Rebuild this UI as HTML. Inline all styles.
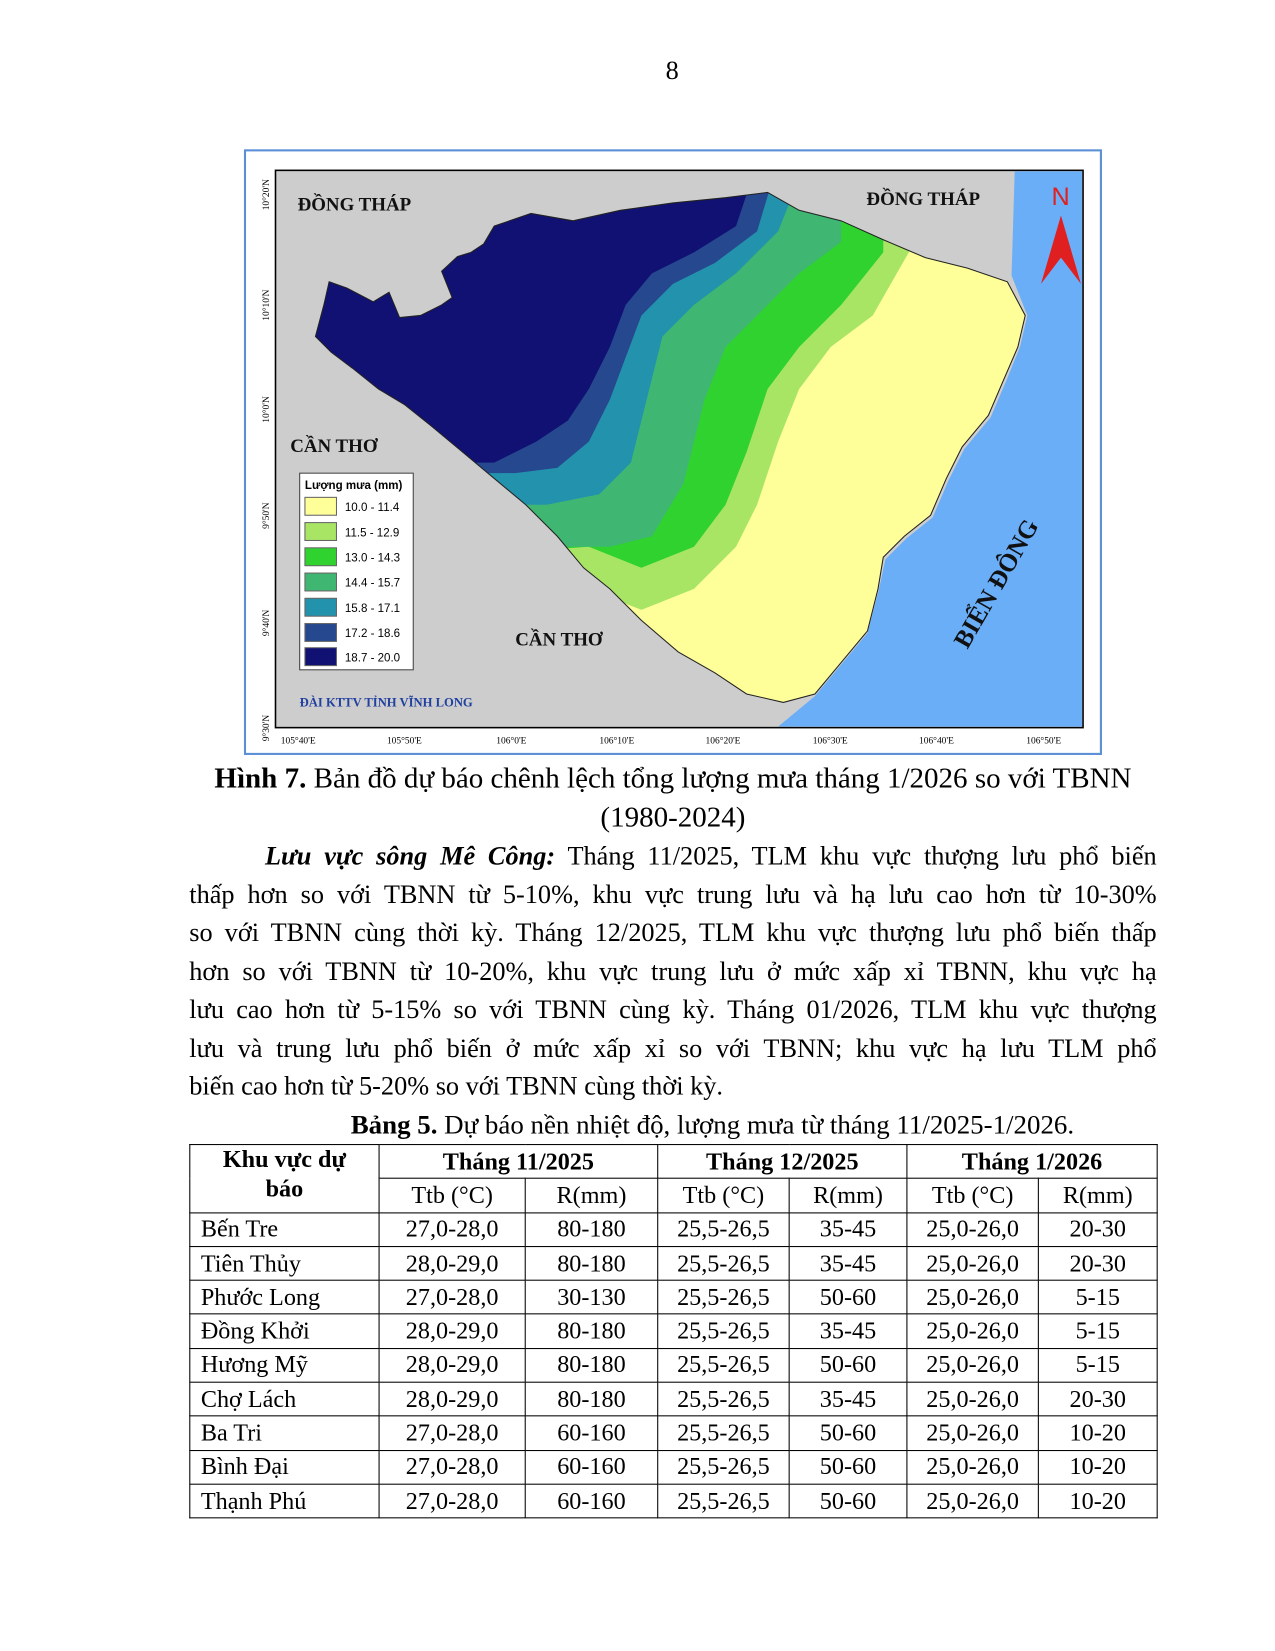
<!DOCTYPE html>
<html><head><meta charset="utf-8"><style>
body{margin:0;width:1275px;height:1650px;background:#fff;position:relative;font-family:"Liberation Serif",serif;color:#000;overflow:hidden}
#w{position:absolute;left:0;top:0;width:1280px;height:1570px;transform:scale(1.0515);transform-origin:0 0}
.a{position:absolute;white-space:nowrap}
.ln{position:absolute;left:180px;width:920px;font-size:25px;text-align:justify;text-align-last:justify;white-space:nowrap;line-height:30px}
table{position:absolute;left:180px;top:1088px;border-collapse:collapse;font-size:23px}
td{border:1px solid #000;height:31.3px;padding:0;text-align:center;line-height:28px}
td.l{text-align:left;padding-left:10px}
</style></head><body><div id="w">
<div class="a" style="left:633px;top:54px;font-size:25px">8</div>
<svg class="a" style="left:0;top:0" width="1275" height="760">
<defs><clipPath id="land"><path d="M313,268 L330,274 L355,287 L370,278 L380,302 L400,300 L420,290 L430,283 L420,258 L435,244 L448,240 L460,232 L470,215 L505,203 L545,210 L590,200 L640,193 L690,188 L730,183 L760,200 L800,210 L840,228 L880,245 L920,255 L958,268 L975,300 L968,330 L955,360 L940,395 L915,425 L900,455 L885,490 L860,510 L840,530 L835,560 L825,600 L800,630 L775,660 L745,668 L710,660 L680,640 L645,620 L610,590 L580,560 L555,540 L530,510 L500,480 L470,455 L440,430 L410,405 L385,385 L360,370 L335,350 L315,335 L300,320 L308,290 Z"/></clipPath></defs>
<rect x="233" y="143" width="814" height="574" fill="#fff" stroke="#5b8fd6" stroke-width="2"/>
<rect x="262" y="162" width="768" height="530" fill="#cdcdcd" stroke="#000" stroke-width="1.5"/>
<path d="M965,163 L1029,163 L1029,691 L740,691 L775,662 L800,632 L825,602 L836,560 L842,532 L862,512 L887,492 L902,457 L917,427 L942,397 L957,362 L970,330 L977,300 L962,262 Z" fill="#6aaef8"/>
<g clip-path="url(#land)">
<rect x="270" y="170" width="760" height="520" fill="#ffff99"/>
<path d="M270,170 L870,170 L870,230 L830,300 L790,330 L760,370 L740,420 L720,480 L700,520 L660,560 L610,580 L560,560 L270,560Z" fill="#a8e565"/>
<path d="M270,170 L840,170 L840,240 L800,290 L760,330 L730,370 L710,430 L690,480 L660,520 L610,540 L560,520 L270,540Z" fill="#2fd22f"/>
<path d="M270,170 L800,170 L800,230 L760,260 L720,300 L690,330 L670,380 L660,420 L650,460 L620,510 L580,520 L270,520Z" fill="#3fb772"/>
<path d="M270,170 L760,170 L740,220 L700,260 L660,290 L630,320 L620,360 L610,400 L600,440 L570,470 L520,480 L270,480Z" fill="#2393ad"/>
<path d="M270,170 L735,170 L720,220 L680,250 L640,270 L610,300 L595,340 L580,380 L560,420 L530,445 L490,450 L270,450Z" fill="#26488f"/>
<path d="M270,170 L715,170 L700,215 L660,240 L620,260 L595,290 L580,330 L560,370 L540,400 L510,420 L470,440 L270,440Z" fill="#111173"/>
</g>
<path d="M313,268 L330,274 L355,287 L370,278 L380,302 L400,300 L420,290 L430,283 L420,258 L435,244 L448,240 L460,232 L470,215 L505,203 L545,210 L590,200 L640,193 L690,188 L730,183 L760,200 L800,210 L840,228 L880,245 L920,255 L958,268 L975,300 L968,330 L955,360 L940,395 L915,425 L900,455 L885,490 L860,510 L840,530 L835,560 L825,600 L800,630 L775,660 L745,668 L710,660 L680,640 L645,620 L610,590 L580,560 L555,540 L530,510 L500,480 L470,455 L440,430 L410,405 L385,385 L360,370 L335,350 L315,335 L300,320 L308,290 Z" fill="none" stroke="#222" stroke-width="1"/>
<g font-family="Liberation Serif" font-weight="bold" font-size="18" fill="#111">
<text x="283" y="200">ĐỒNG THÁP</text><text x="824" y="195">ĐỒNG THÁP</text>
<text x="276" y="430">CẦN THƠ</text><text x="490" y="614">CẦN THƠ</text>
<text x="0" y="0" font-size="24" transform="translate(920,618) rotate(-60)">BIỂN ĐÔNG</text>
<text x="285" y="672" font-size="12" fill="#2040a0">ĐÀI KTTV TỈNH VĨNH LONG</text>
</g>
<text x="1000" y="195" font-family="Liberation Sans" font-size="24" fill="#e02020">N</text>
<path d="M1009,205 L990,270 L1009,245 L1028,270 Z" fill="#e02020"/>
<rect x="285" y="450" width="108" height="187" fill="#fff" stroke="#444"/>
<g font-family="Liberation Sans" font-size="11">
<text x="290" y="465" font-weight="bold">Lượng mưa (mm)</text>
<rect x="290" y="473" width="30" height="17" fill="#ffff99" stroke="#666"/><text x="328" y="486">10.0 - 11.4</text>
<rect x="290" y="497" width="30" height="17" fill="#a8e565" stroke="#666"/><text x="328" y="510">11.5 - 12.9</text>
<rect x="290" y="521" width="30" height="17" fill="#2fd22f" stroke="#666"/><text x="328" y="534">13.0 - 14.3</text>
<rect x="290" y="545" width="30" height="17" fill="#3fb772" stroke="#666"/><text x="328" y="558">14.4 - 15.7</text>
<rect x="290" y="569" width="30" height="17" fill="#2393ad" stroke="#666"/><text x="328" y="582">15.8 - 17.1</text>
<rect x="290" y="593" width="30" height="17" fill="#26488f" stroke="#666"/><text x="328" y="606">17.2 - 18.6</text>
<rect x="290" y="616" width="30" height="17" fill="#111173" stroke="#666"/><text x="328" y="629">18.7 - 20.0</text>
</g>
<g font-family="Liberation Serif" font-size="9">
<text x="267" y="707">105°40'E</text><text x="368" y="707">105°50'E</text><text x="472" y="707">106°0'E</text><text x="570" y="707">106°10'E</text><text x="671" y="707">106°20'E</text><text x="773" y="707">106°30'E</text><text x="874" y="707">106°40'E</text><text x="976" y="707">106°50'E</text>
<text transform="translate(256,200) rotate(-90)">10°20'N</text><text transform="translate(256,305) rotate(-90)">10°10'N</text><text transform="translate(256,402) rotate(-90)">10°0'N</text><text transform="translate(256,503) rotate(-90)">9°50'N</text><text transform="translate(256,605) rotate(-90)">9°40'N</text><text transform="translate(256,705) rotate(-90)">9°30'N</text>
</g>
</svg>
<div class="a" style="left:0;width:1280px;text-align:center;top:725px;font-size:27.6px;line-height:30px"><b>Hình 7.</b> Bản đồ dự báo chênh lệch tổng lượng mưa tháng 1/2026 so với TBNN</div>
<div class="a" style="left:0;width:1280px;text-align:center;top:762px;font-size:27.6px;line-height:30px">(1980-2024)</div>
<div class="ln" style="top:800px;left:252px;width:848px"><b><i>Lưu vực sông Mê Công:</i></b> Tháng 11/2025, TLM khu vực thượng lưu phổ biến</div>
<div class="ln" style="top:837px">thấp hơn so với TBNN từ 5-10%, khu vực trung lưu và hạ lưu cao hơn từ 10-30%</div>
<div class="ln" style="top:873px">so với TBNN cùng thời kỳ. Tháng 12/2025, TLM khu vực thượng lưu phổ biến thấp</div>
<div class="ln" style="top:910px">hơn so với TBNN từ 10-20%, khu vực trung lưu ở mức xấp xỉ TBNN, khu vực hạ</div>
<div class="ln" style="top:946px">lưu cao hơn từ 5-15% so với TBNN cùng kỳ. Tháng 01/2026, TLM khu vực thượng</div>
<div class="ln" style="top:983px">lưu và trung lưu phổ biến ở mức xấp xỉ so với TBNN; khu vực hạ lưu TLM phổ</div>
<div class="ln" style="top:1019px;text-align-last:left">biến cao hơn từ 5-20% so với TBNN cùng thời kỳ.</div>
<div class="a" style="left:0;width:1355px;text-align:center;top:1055px;font-size:25.6px;line-height:30px"><b>Bảng 5.</b> Dự báo nền nhiệt độ, lượng mưa từ tháng 11/2025-1/2026.</div>
<table>
<tr><td rowspan="2" style="width:179px;font-weight:bold;vertical-align:top">Khu vực dự<br>báo</td><td colspan="2" style="font-weight:bold">Tháng 11/2025</td><td colspan="2" style="font-weight:bold">Tháng 12/2025</td><td colspan="2" style="font-weight:bold">Tháng 1/2026</td></tr>
<tr><td style="width:138px">Ttb (°C)</td><td style="width:125px">R(mm)</td><td style="width:124px">Ttb (°C)</td><td style="width:111px">R(mm)</td><td style="width:124px">Ttb (°C)</td><td style="width:112px">R(mm)</td></tr>
<tr><td class="l">Bến Tre</td><td>27,0-28,0</td><td>80-180</td><td>25,5-26,5</td><td>35-45</td><td>25,0-26,0</td><td>20-30</td></tr>
<tr><td class="l">Tiên Thủy</td><td>28,0-29,0</td><td>80-180</td><td>25,5-26,5</td><td>35-45</td><td>25,0-26,0</td><td>20-30</td></tr>
<tr><td class="l">Phước Long</td><td>27,0-28,0</td><td>30-130</td><td>25,5-26,5</td><td>50-60</td><td>25,0-26,0</td><td>5-15</td></tr>
<tr><td class="l">Đồng Khởi</td><td>28,0-29,0</td><td>80-180</td><td>25,5-26,5</td><td>35-45</td><td>25,0-26,0</td><td>5-15</td></tr>
<tr><td class="l">Hương Mỹ</td><td>28,0-29,0</td><td>80-180</td><td>25,5-26,5</td><td>50-60</td><td>25,0-26,0</td><td>5-15</td></tr>
<tr><td class="l">Chợ Lách</td><td>28,0-29,0</td><td>80-180</td><td>25,5-26,5</td><td>35-45</td><td>25,0-26,0</td><td>20-30</td></tr>
<tr><td class="l">Ba Tri</td><td>27,0-28,0</td><td>60-160</td><td>25,5-26,5</td><td>50-60</td><td>25,0-26,0</td><td>10-20</td></tr>
<tr><td class="l">Bình Đại</td><td>27,0-28,0</td><td>60-160</td><td>25,5-26,5</td><td>50-60</td><td>25,0-26,0</td><td>10-20</td></tr>
<tr><td class="l">Thạnh Phú</td><td>27,0-28,0</td><td>60-160</td><td>25,5-26,5</td><td>50-60</td><td>25,0-26,0</td><td>10-20</td></tr>
</table>
</div></body></html>
